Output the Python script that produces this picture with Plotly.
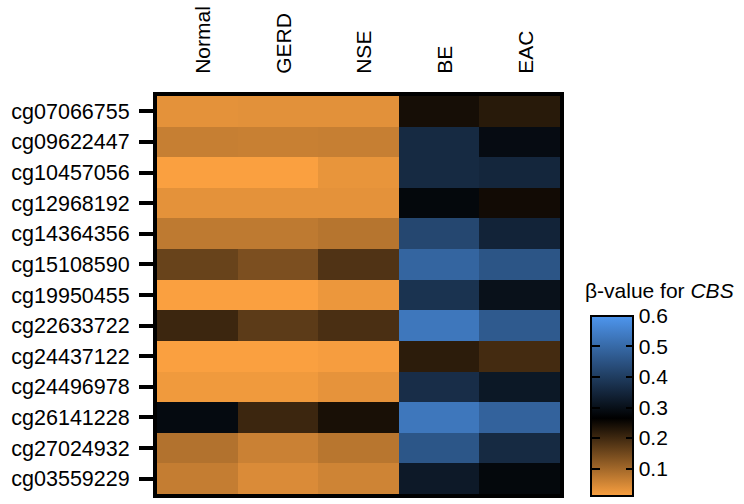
import plotly.graph_objects as go

groups = ["Normal", "GERD", "NSE", "BE", "EAC"]
probes = ["cg07066755", "cg09622447", "cg10457056", "cg12968192", "cg14364356",
          "cg15108590", "cg19950455", "cg22633722", "cg24437122", "cg24496978",
          "cg26141228", "cg27024932", "cg03559229"]

normal = [0.032, 0.063, 0.010, 0.032, 0.071, 0.159, 0.010, 0.204, 0.010, 0.020, 0.287, 0.083, 0.065]
gerd   = [0.034, 0.061, 0.010, 0.032, 0.071, 0.139, 0.010, 0.171, 0.010, 0.020, 0.204, 0.059, 0.043]
nse    = [0.034, 0.063, 0.028, 0.032, 0.079, 0.183, 0.024, 0.190, 0.014, 0.030, 0.240, 0.077, 0.055]
be     = [0.243, 0.358, 0.358, 0.282, 0.423, 0.490, 0.378, 0.530, 0.220, 0.366, 0.530, 0.456, 0.321]
eac    = [0.224, 0.290, 0.349, 0.247, 0.344, 0.454, 0.302, 0.465, 0.196, 0.318, 0.484, 0.358, 0.282]

cb_ticks = [0.1, 0.2, 0.3, 0.4, 0.5, 0.6]
zmin, zmax = 0.01, 0.6

z = [[normal[i], gerd[i], nse[i], be[i], eac[i]] for i in range(len(probes))]

t_black = (0.265 - zmin) / (zmax - zmin)
colorscale = [
    [0.0, "rgb(250,160,64)"],
    [t_black, "rgb(0,0,0)"],
    [1.0, "rgb(78,150,238)"],
]
transparent = [[0.0, "rgba(0,0,0,0)"], [1.0, "rgba(0,0,0,0)"]]

FONT = "Liberation Sans, Arial, sans-serif"
W, H = 744, 504
ml, mr, mt, mb = 157, 184, 95, 6
plot_h = H - mt - mb
plot_w = W - ml - mr

def px_x(x):
    return (x - ml) / plot_w

def px_y(y):
    return (H - mb - y) / plot_h

# colorbar geometry (pixels)
cb_left, cb_top, cb_bottom, cb_thick = 591, 318, 500, 42
cb_len = cb_bottom - cb_top

common_cb = dict(
    x=px_x(cb_left), xanchor="left", xpad=0,
    y=px_y(cb_bottom), yanchor="bottom", ypad=0,
    len=cb_len / plot_h, lenmode="fraction", thicknessmode="pixels",
    tickvals=cb_ticks, ticktext=[f"{v:.1f}" for v in cb_ticks],
    ticks="inside", ticklen=8, tickwidth=2, tickcolor="black",
)

fig = go.Figure()
fig.add_trace(go.Heatmap(
    z=z, x=groups, y=probes,
    colorscale=colorscale, zmin=zmin, zmax=zmax,
    colorbar=dict(
        **common_cb,
        thickness=cb_thick,
        outlinewidth=2, outlinecolor="black",
        tickprefix="\u00a0\u00a0",
        tickfont=dict(size=21, color="black", family=FONT),
    ),
))
# transparent twin whose scale supplies the tick marks on the left edge of the bar
fig.add_trace(go.Heatmap(
    z=z, x=groups, y=probes, hoverinfo="skip",
    colorscale=transparent, zmin=zmin, zmax=zmax,
    colorbar=dict(
        **common_cb,
        thickness=9,
        outlinewidth=0,
        showticklabels=False,
    ),
))

fig.update_layout(
    width=W, height=H,
    margin=dict(l=ml, r=mr, t=mt, b=mb),
    paper_bgcolor="white", plot_bgcolor="white",
    font=dict(family=FONT, color="black", size=21),
    annotations=[dict(text="β-value for <i>CBS</i>", xref="paper", yref="paper",
                      x=px_x(583), y=px_y(306), xanchor="left", yanchor="bottom",
                      showarrow=False, font=dict(size=21, color="black", family=FONT))],
    xaxis=dict(side="top", tickangle=-90, ticks="", showline=True, mirror=True,
               linewidth=4, linecolor="black", showgrid=False, zeroline=False,
               tickfont=dict(size=21), ticklabelstandoff=14, ticklabelshift=6),
    yaxis=dict(autorange="reversed", ticks="outside", ticklen=14, tickwidth=4,
               tickcolor="black", showline=True, mirror=True, linewidth=4,
               linecolor="black", showgrid=False, zeroline=False,
               tickfont=dict(size=21.5), ticklabelstandoff=5),
)

fig.write_html("out.html")
